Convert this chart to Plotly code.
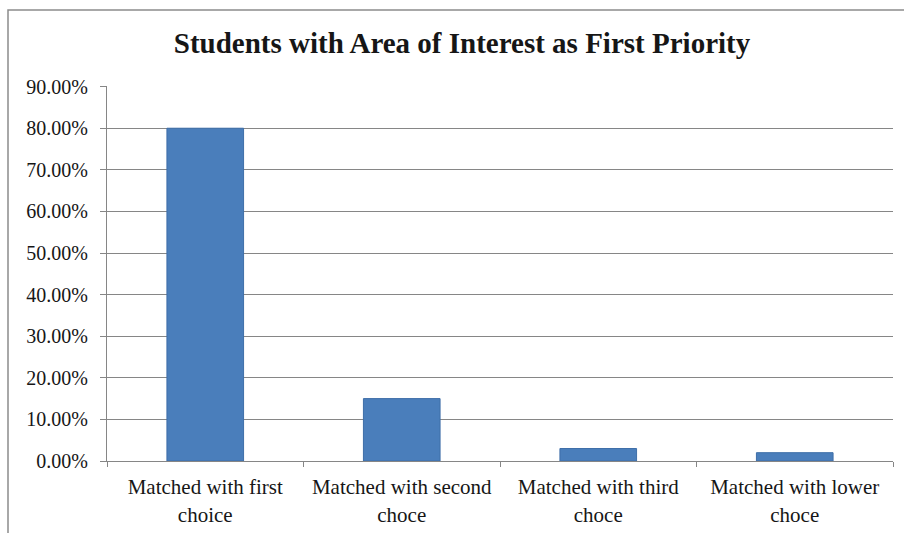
import plotly.graph_objects as go

# Share of students placed in each preference level
categories = [
    "Matched with first<br>choice",
    "Matched with second<br>choce",
    "Matched with third<br>choce",
    "Matched with lower<br>choce",
]
shares = [0.80, 0.15, 0.03, 0.02]
y_ticks = [i / 10 for i in range(10)]

W, H = 904, 533
ML, MR, MT, MB = 107, 11, 86, 72
pw, ph = W - ML - MR, H - MT - MB

def px_x(x):
    return (x - ML) / pw

def px_y(y):
    return (H - MB - y) / ph

serif = "Liberation Serif"
axis_gray = "#868686"
text_color = "#161616"

fig = go.Figure(
    go.Bar(
        x=categories,
        y=shares,
        width=0.39,
        marker=dict(color="#4A7EBB", line=dict(color="#3E6EA8", width=1)),
    )
)

fig.update_layout(
    width=W,
    height=H,
    margin=dict(l=ML, r=MR, t=MT, b=MB),
    paper_bgcolor="white",
    plot_bgcolor="white",
    showlegend=False,
    font=dict(family=serif, color=text_color),
    title=dict(
        text="<b>Students with Area of Interest as First Priority</b>",
        x=462 / W,
        xref="container",
        y=1 - 43 / H,
        yref="container",
        xanchor="center",
        yanchor="middle",
        font=dict(family=serif, size=29, color=text_color),
    ),
    xaxis=dict(
        type="category",
        automargin=False,
        tickson="boundaries",
        ticks="outside",
        ticklen=5,
        tickcolor=axis_gray,
        ticklabelstandoff=7,
        showline=True,
        linecolor=axis_gray,
        linewidth=1,
        showgrid=False,
        tickfont=dict(family=serif, size=21, color=text_color),
    ),
    yaxis=dict(
        range=[0, 0.9015],
        automargin=False,
        tickvals=y_ticks + [0.9],
        tickformat=".2%",
        ticks="outside",
        ticklen=6,
        tickcolor=axis_gray,
        ticklabelstandoff=8,
        showline=True,
        linecolor=axis_gray,
        linewidth=1,
        showgrid=True,
        gridcolor=axis_gray,
        gridwidth=1,
        zeroline=False,
        tickfont=dict(family=serif, size=20, color=text_color),
    ),
    shapes=[
        dict(
            type="rect",
            xref="paper",
            yref="paper",
            x0=px_x(8),
            x1=px_x(W + 10),
            y0=px_y(H + 10),
            y1=px_y(10),
            line=dict(color="#8c8c8c", width=1.5),
            fillcolor="rgba(0,0,0,0)",
            layer="below",
        )
    ],
)

fig.write_html("out.html")
